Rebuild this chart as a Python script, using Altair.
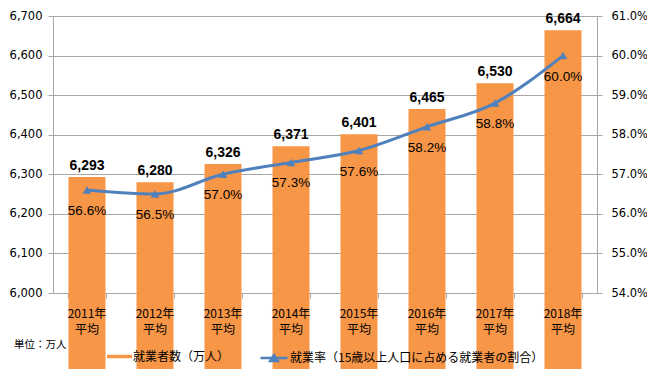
import altair as alt
import pandas as pd

years = ["2011年", "2012年", "2013年", "2014年", "2015年", "2016年", "2017年", "2018年"]
employed = [6293, 6280, 6326, 6371, 6401, 6465, 6530, 6664]
rate = [0.566, 0.565, 0.570, 0.573, 0.576, 0.582, 0.588, 0.600]
bar_name = "就業者数（万人）"
line_name = "就業率（15歳以上人口に占める就業者の割合）"
unit_text = "単位：万人"
sub_label = "平均"

df = pd.DataFrame({"year": years, "employed": employed, "rate": rate,
                   "xlabel": [y + "\n" + sub_label for y in years],
                   "s1": bar_name, "s2": line_name})

ORANGE = "#F79646"
BLUE = "#4F81BD"
GRID = "#A6A6A6"
NUM_FONT = "DejaVu Sans"
JP_FONT = "Noto Sans CJK JP"

x_axis = alt.Axis(labels=False, tickBand="extent", tickSize=5, tickColor=GRID,
                  domainColor=GRID, grid=False)
x_enc = alt.X("year:N", sort=years, title=None,
              scale=alt.Scale(paddingInner=0.45, paddingOuter=0.225),
              axis=x_axis)

left_axis = alt.Axis(orient="left", format=",.0f", values=list(range(6000, 6701, 100)),
                     labelFont=NUM_FONT, labelFontSize=11.5, labelColor="black",
                     tickSize=5, tickColor=GRID, domainColor=GRID,
                     grid=True, gridColor=GRID, labelPadding=6)
y_left = alt.Y("employed:Q", title=None,
               scale=alt.Scale(domain=[6000, 6700], nice=False, zero=False),
               axis=left_axis)

right_axis = alt.Axis(orient="right", format=".1%",
                      values=[0.54, 0.55, 0.56, 0.57, 0.58, 0.59, 0.60, 0.61],
                      labelFont=NUM_FONT, labelFontSize=11.5, labelColor="black",
                      tickSize=5, tickColor=GRID, domainColor=GRID,
                      grid=False, labelPadding=9)
y_right = alt.Y("rate:Q", title=None,
                scale=alt.Scale(domain=[0.54, 0.61], nice=False, zero=False),
                axis=right_axis)

base = alt.Chart(df)

bars = base.mark_bar(size=37).encode(
    x=x_enc,
    y=y_left,
    fill=alt.Fill("s1:N", scale=alt.Scale(domain=[bar_name], range=[ORANGE]),
                  legend=alt.Legend(orient="none", legendX=54, legendY=328, title=None,
                                    symbolType="M-1,-0.14H1V0.14H-1Z", symbolSize=625,
                                    symbolStrokeWidth=0, labelOffset=1, labelLimit=0,
                                    labelFont=JP_FONT, labelFontSize=12, labelColor="black",
                                    padding=0)),
)

bar_labels = base.mark_text(dy=-11, baseline="middle", font="Liberation Sans",
                            fontSize=14, fontWeight="bold", color="black").encode(
    x=x_enc,
    y=y_left,
    text=alt.Text("employed:Q", format=","),
)

x_labels = base.mark_text(baseline="top", lineBreak="\n", lineHeight=16,
                          font=JP_FONT, fontSize=12, color="black").encode(
    x=x_enc,
    y=alt.value(293),
    text="xlabel:N",
)

line = base.mark_line(strokeWidth=3, interpolate="monotone").encode(
    x=x_enc,
    y=y_right,
    stroke=alt.Stroke("s2:N", scale=alt.Scale(domain=[line_name], range=[BLUE]),
                      legend=alt.Legend(orient="none", legendX=206, legendY=327, title=None,
                                        symbolType="M-1,0H1M-0.28,0.22L0,-0.22L0.28,0.22Z",
                                        symbolSize=729, symbolStrokeWidth=2.5,
                                        symbolFillColor=BLUE, labelOffset=1, labelLimit=0,
                                        labelFont=JP_FONT, labelFontSize=12, labelColor="black",
                                        padding=0)),
)

points = base.mark_point(shape="triangle-up", filled=True, size=75, color=BLUE, opacity=1).encode(
    x=x_enc,
    y=y_right,
)

rate_labels = base.mark_text(dy=21, baseline="middle", font="Liberation Sans",
                             fontSize=13.5, color="black").encode(
    x=x_enc,
    y=y_right,
    text=alt.Text("rate:Q", format=".1%"),
)

unit = alt.Chart(pd.DataFrame({"t": [unit_text]})).mark_text(
    align="left", baseline="middle", font=JP_FONT, fontSize=10.5, color="black"
).encode(x=alt.value(-39), y=alt.value(329), text="t:N")

left = alt.layer(bars, bar_labels, x_labels)
right = alt.layer(line, points, rate_labels)

chart = alt.layer(left, right, unit).resolve_scale(y="independent").properties(
    width=544, height=277,
    autosize=alt.AutoSizeParams(type="none"),
    padding={"left": 45, "top": 8, "right": 50, "bottom": 76},
    background="white",
).configure_view(stroke=None)

chart.save("out.html", embed_options={"renderer": "svg", "actions": False})
